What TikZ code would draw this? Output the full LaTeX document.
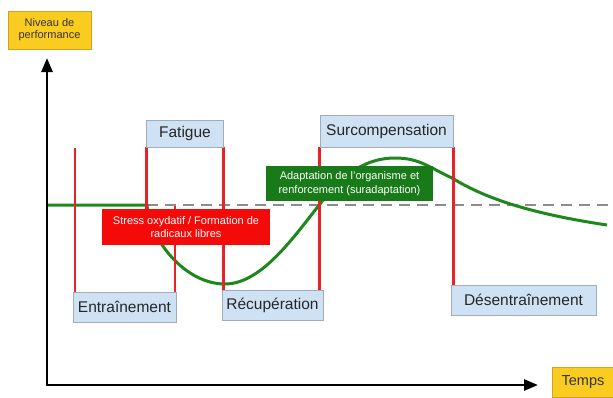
\documentclass[tikz,border=0pt]{standalone}
\usepackage{fontspec}
\setmainfont{Liberation Sans}
\usetikzlibrary{arrows.meta,backgrounds}
\definecolor{jaune}{RGB}{250,204,32}
\definecolor{jauneb}{RGB}{205,165,30}
\definecolor{bleuclair}{RGB}{207,226,243}
\definecolor{bleub}{RGB}{160,172,184}
\definecolor{rouge}{RGB}{232,34,38}
\definecolor{rougefond}{RGB}{245,10,10}
\definecolor{vert}{RGB}{30,135,30}
\definecolor{vertfond}{RGB}{24,122,24}
\definecolor{gristrait}{RGB}{140,140,140}

\begin{document}
\begin{tikzpicture}[x=1pt,y=-1pt,
        etiq/.style={draw=bleub,fill=bleuclair,inner sep=0pt,text=black!85,font=\fontsize{15.5}{18}\selectfont},
        titre/.style={draw=jauneb,fill=jaune,inner sep=0pt,align=center,text=black!80},
        bulle/.style={inner sep=0pt,align=center,text=white,font=\fontsize{11}{13.5}\selectfont},
        marque/.style={rouge,line width=2.8pt},
        courbe/.style={vert,line width=3pt}]
        \useasboundingbox (0,0) rectangle (613,397);
        \clip (0,0) rectangle (613,397);
        \node[titre,minimum width=83,minimum height=38,font=\fontsize{11}{12}\selectfont] (niveau) at (49.5,30) {Niveau de\\performance};
        \node[titre,minimum width=62,minimum height=30,font=\fontsize{14.5}{17}\selectfont] (temps) at (583,382) {Temps};
        \node[etiq,minimum width=77,minimum height=27] (fatigue) at (185,133.5) {Fatigue};
        \node[etiq,minimum width=103,minimum height=30] (entrainement) at (124.5,307) {Entraînement};
        \node[etiq,minimum width=101,minimum height=30] (recuperation) at (272.5,305) {Récupération};
        \node[etiq,minimum width=133,minimum height=32] (surcomp) at (386.5,131) {Surcompensation};
        \node[etiq,minimum width=145,minimum height=30] (desentr) at (523.5,300) {Désentraînement};
        \node[bulle,fill=rougefond,minimum width=168,minimum height=36] (stress) at (186,227) {Stress oxydatif / Formation de\\radicaux libres};
        \node[bulle,fill=vertfond,minimum width=167,minimum height=35] (adaptation) at (349.5,183.5) {Adaptation de l’organisme et\\renforcement (suradaptation)};
        \coordinate (origine) at (47,385);
        \coordinate (haut) at (47,58);
        \coordinate (droite) at (538,385);
        \coordinate (m1) at (75,148);
        \coordinate (m3) at (175,206);
        \begin{scope}[on background layer]
            \draw[gristrait,line width=1.2pt,dash pattern=on 11pt off 7pt] (147,205) -- (613,205);
            \draw[courbe] (47,205) -- (147,205) .. controls (150,240) and (185,284) .. (225,284) .. controls (262,284) and (295,235) .. (320,204) .. controls (345,170) and (370,158) .. (395,158) .. controls (420,158) and (430,168) .. (452,178) .. controls (480,195) and (520,212) .. (607,225);
            \draw[marque] (m1) -- (m1 |- entrainement.north);
            \draw[marque] (fatigue.south west) -- (fatigue.south west |- stress.north);
            \draw[marque] (m3) -- (m3 |- entrainement.north);
            \draw[marque] (fatigue.south east) -- (fatigue.south east |- recuperation.north);
            \draw[marque] (surcomp.south west) -- (surcomp.south west |- recuperation.north);
            \draw[marque] (surcomp.south east) -- (surcomp.south east |- desentr.north);
        \end{scope}
        \draw[line width=2.6pt,{Triangle[length=14pt,width=11pt]}-{Triangle[length=14pt,width=11pt]}] (haut) -- (origine) -- (droite);
    \end{tikzpicture}
\end{document}
